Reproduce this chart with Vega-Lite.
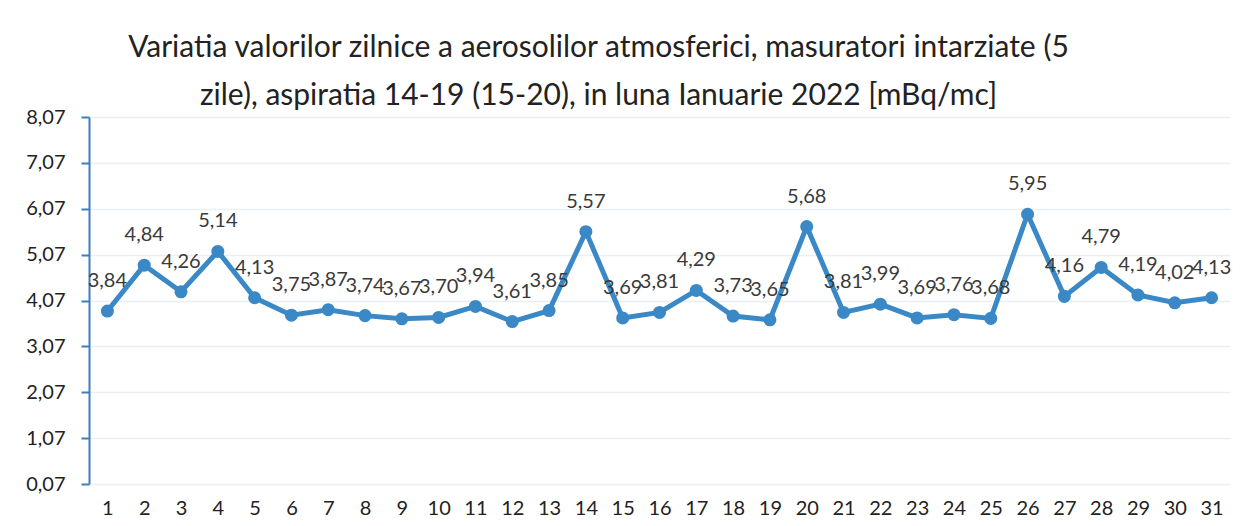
{
  "$schema": "https://vega.github.io/schema/vega-lite/v6.json",
  "width": 1141,
  "height": 367,
  "autosize": {"type": "none"},
  "padding": {"left": 89, "top": 117, "right": 21, "bottom": 42},
  "background": "white",
  "config": {
    "locale": {"number": {"decimal": ",", "thousands": ".", "grouping": [3], "currency": ["", ""]}},
    "view": {"stroke": null},
    "font": "Lato"
  },
  "title": {
    "text": ["Variatia valorilor zilnice a aerosolilor atmosferici, masuratori intarziate (5", "zile), aspiratia 14-19 (15-20),  in luna Ianuarie 2022 [mBq/mc]"],
    "fontSize": 30,
    "fontWeight": "normal",
    "color": "#222222",
    "font": "Lato",
    "anchor": "middle",
    "dx": -61,
    "offset": -4,
    "lineHeight": 48
  },
  "data": {
    "values": [
      {"zi": 1, "v": 3.84}, {"zi": 2, "v": 4.84}, {"zi": 3, "v": 4.26}, {"zi": 4, "v": 5.14},
      {"zi": 5, "v": 4.13}, {"zi": 6, "v": 3.75}, {"zi": 7, "v": 3.87}, {"zi": 8, "v": 3.74},
      {"zi": 9, "v": 3.67}, {"zi": 10, "v": 3.70}, {"zi": 11, "v": 3.94}, {"zi": 12, "v": 3.61},
      {"zi": 13, "v": 3.85}, {"zi": 14, "v": 5.57}, {"zi": 15, "v": 3.69}, {"zi": 16, "v": 3.81},
      {"zi": 17, "v": 4.29}, {"zi": 18, "v": 3.73}, {"zi": 19, "v": 3.65}, {"zi": 20, "v": 5.68},
      {"zi": 21, "v": 3.81}, {"zi": 22, "v": 3.99}, {"zi": 23, "v": 3.69}, {"zi": 24, "v": 3.76},
      {"zi": 25, "v": 3.68}, {"zi": 26, "v": 5.95}, {"zi": 27, "v": 4.16}, {"zi": 28, "v": 4.79},
      {"zi": 29, "v": 4.19}, {"zi": 30, "v": 4.02}, {"zi": 31, "v": 4.13}
    ]
  },
  "encoding": {
    "x": {
      "field": "zi", "type": "ordinal",
      "scale": {"type": "point", "padding": 0.5},
      "axis": {"title": null, "labelAngle": 0, "domain": false, "ticks": false, "grid": false,
               "labelFontSize": 20, "labelColor": "#222222", "labelPadding": 14, "labelFont": "Lato"}
    },
    "y": {
      "field": "v", "type": "quantitative",
      "scale": {"domain": [0.07, 8.07], "nice": false, "zero": false},
      "axis": {"title": null, "values": [0.07, 1.07, 2.07, 3.07, 4.07, 5.07, 6.07, 7.07, 8.07],
               "format": ".2f", "labelFontSize": 20, "labelColor": "#222222", "labelFont": "Lato",
               "domainColor": "#3f7fb8", "domainWidth": 2, "tickColor": "#3f7fb8", "tickWidth": 2, "tickSize": 8,
               "labelPadding": 16, "grid": true, "gridColor": "#eceff2", "gridWidth": 1.5}
    }
  },
  "layer": [
    {"mark": {"type": "line", "color": "#3a89c6", "strokeWidth": 5}},
    {"mark": {"type": "point", "filled": true, "color": "#3a89c6", "size": 170, "opacity": 1}},
    {"mark": {"type": "text", "fontSize": 20, "color": "#3a3a3a", "font": "Lato", "baseline": "alphabetic", "dy": -24},
     "encoding": {"text": {"field": "v", "type": "quantitative", "format": ".2f"}}}
  ]
}
